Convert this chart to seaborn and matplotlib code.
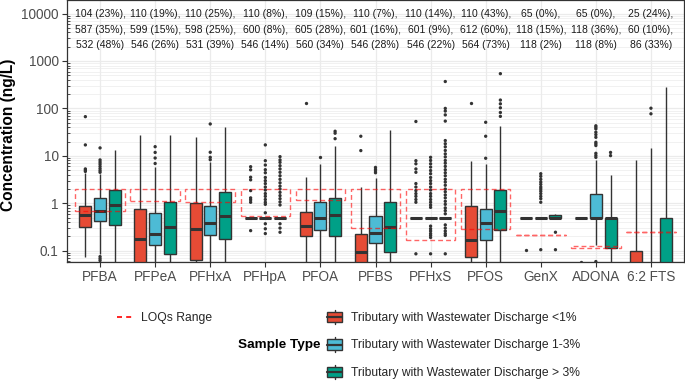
import numpy as np
import pandas as pd
import matplotlib
matplotlib.use("Agg")
import matplotlib.pyplot as plt
import seaborn as sns
from matplotlib.patches import Rectangle, Patch
from matplotlib.lines import Line2D
from matplotlib.legend_handler import HandlerBase
from matplotlib.ticker import FixedLocator, NullFormatter

# ---------------- data ----------------
compounds = ["PFBA", "PFPeA", "PFHxA", "PFHpA", "PFOA", "PFBS",
             "PFHxS", "PFOS", "GenX", "ADONA", "6:2 FTS"]
groups = ["Tributary with Wastewater Discharge <1%",
          "Tributary with Wastewater Discharge 1-3%",
          "Tributary with Wastewater Discharge > 3%"]
group_colors = ["#E64B35", "#4DBBD5", "#00A087"]

# box statistics in ng/L (0.02 = below the plotted range)
lt1_low = [0.073, 0.02, 0.02, 0.49, 0.02, 0.02, 0.49, 0.02, 0.49, 0.49, 0.02]
lt1_q1 = [0.31, 0.03, 0.065, 0.49, 0.205, 0.03, 0.49, 0.073, 0.49, 0.49, 0.03]
lt1_med = [0.57, 0.18, 0.28, 0.49, 0.33, 0.093, 0.49, 0.165, 0.49, 0.49, 0.045]
lt1_q3 = [0.865, 0.74, 1.02, 0.49, 0.67, 0.227, 0.49, 0.88, 0.49, 0.49, 0.098]
lt1_high = [4.4, 27.5, 25, 0.49, 3.5, 2.2, 0.49, 7.6, 0.49, 0.49, 8.2]

mid_low = [0.085, 0.02, 0.02, 0.49, 0.02, 0.02, 0.49, 0.02, 0.49, 0.13, 0.02]
mid_q1 = [0.43, 0.135, 0.21, 0.49, 0.275, 0.144, 0.49, 0.165, 0.49, 0.49, 0.025]
mid_med = [0.70, 0.23, 0.38, 0.49, 0.5, 0.235, 0.49, 0.38, 0.49, 0.49, 0.03]
mid_q3 = [1.27, 0.63, 0.865, 0.49, 1.07, 0.54, 0.49, 0.75, 0.49, 1.55, 0.04]
mid_high = [4.2, 5.7, 7.5, 0.49, 6.8, 3.4, 0.49, 6.8, 0.49, 8.3, 14.7]

gt3_low = [0.02, 0.02, 0.02, 0.49, 0.02, 0.02, 0.49, 0.02, 0.48, 0.02, 0.02]
gt3_q1 = [0.355, 0.087, 0.175, 0.49, 0.2, 0.095, 0.49, 0.275, 0.48, 0.115, 0.03]
gt3_med = [0.92, 0.32, 0.53, 0.49, 0.57, 0.32, 0.49, 0.70, 0.5, 0.49, 0.04]
gt3_q3 = [1.94, 1.07, 1.74, 0.49, 1.32, 1.07, 0.49, 1.94, 0.56, 0.49, 0.49]
gt3_high = [13.5, 27.5, 40, 0.49, 16.5, 35, 0.49, 43, 0.58, 3.9, 280]

# outliers (ng/L)
lt1_outliers = {
    "PFBA": [67, 17, 5.3, 5.0, 4.7],
    "PFHpA": [5.9, 5.07, 3.54, 3.12, 1.85, 1.30, 1.18, 1.05, 0.265],
    "PFOA": [131],
    "PFBS": [25.9, 12.9],
    "PFHxS": [53, 7.9, 6.8, 5.3, 4.5, 2.6, 2.2, 1.85, 1.6, 1.4, 1.2, 1.05, 0.086],
    "PFOS": [131],
    "GenX": [0.105],
    "ADONA": [0.059],
}
mid_outliers = {
    "PFBA": [14.7, 8.2, 7.4, 6.7, 6.0, 5.4, 4.9, 4.5, 0.075, 0.068, 0.062],
    "PFPeA": [15.6, 11.8, 9.0, 6.9],
    "PFHxA": [47, 11.9, 9.3, 8.3],
    "PFHpA": [17, 7.9, 6.4, 5.1, 4.4, 3.5, 3.0, 2.6, 2.2, 1.9, 1.6, 1.4, 1.2,
              1.05, 0.95, 0.63, 0.37, 0.29, 0.23],
    "PFOA": [9.6],
    "PFBS": [5.7, 5.2, 4.8, 4.4],
    "PFHxS": [9.3, 8.0, 6.8, 5.8, 4.9, 4.2, 3.5, 3.0, 2.6, 2.2, 1.9, 1.6, 1.4,
              1.2, 1.05, 0.92, 0.82, 0.33, 0.29, 0.26, 0.23, 0.21, 0.19, 0.086],
    "PFOS": [51, 25.9, 8.9],
    "GenX": [4.2, 3.7, 3.2, 2.8, 2.5, 2.2, 2.0, 1.8, 1.6, 1.4, 1.25, 1.05, 0.105],
    "ADONA": [43, 40, 37, 31.5, 28, 24.6, 19.3, 17.9, 16.5, 11.3, 10.2, 9.3, 0.059],
    "6:2 FTS": [101, 77],
}
gt3_outliers = {
    "PFHpA": [9.6, 8.2, 7.3, 6.2, 5.3, 4.5, 3.8, 3.2, 2.7, 2.3, 2.0, 1.7, 1.45,
              1.25, 1.07, 0.92, 0.37, 0.30, 0.245],
    "PFOA": [33, 30, 23],
    "PFHxS": [369, 100, 88, 73, 54, 21, 18, 15.5, 13, 11, 9.5, 8, 7, 6, 5.1, 4.4,
              3.8, 3.2, 2.8, 2.4, 2.0, 1.75, 1.5, 1.3, 1.1, 0.95, 0.8, 0.7, 0.6,
              0.35, 0.3, 0.26, 0.23, 0.21, 0.086],
    "PFOS": [540, 150, 125, 103, 82, 68],
    "GenX": [0.245, 0.105],
    "ADONA": [11.8, 10.1],
}

# LOQ ranges (ng/L)
loq_low = [0.69, 1.13, 1.04, 0.53, 1.18, 0.30, 0.17, 0.29, 0.215, 0.115, 0.25]
loq_high = [2.0, 2.0, 2.0, 2.0, 2.0, 2.0, 2.0, 2.0, 0.215, 0.125, 0.25]

# sample counts (detection frequency) per group
counts_lt1 = ["104 (23%),", "110 (19%),", "110 (25%),", "110 (8%),", "109 (15%),",
              "110 (7%),", "110 (14%),", "110 (43%),", "65 (0%),", "65 (0%),", "25 (24%),"]
counts_mid = ["587 (35%),", "599 (15%),", "598 (25%),", "600 (8%),", "605 (28%),",
              "601 (16%),", "601 (9%),", "612 (60%),", "118 (15%),", "118 (36%),", "60 (10%),"]
counts_gt3 = ["532 (48%)", "546 (26%)", "531 (39%)", "546 (14%)", "560 (34%)",
              "546 (28%)", "546 (22%)", "564 (73%)", "118 (2%)", "118 (8%)", "86 (33%)"]
count_rows_y = [10000, 4600, 2200]

# ---------------- tables ----------------
box_rows = []
for g, stats in zip(groups, [
        (lt1_low, lt1_q1, lt1_med, lt1_q3, lt1_high),
        (mid_low, mid_q1, mid_med, mid_q3, mid_high),
        (gt3_low, gt3_q1, gt3_med, gt3_q3, gt3_high)]):
    for i, c in enumerate(compounds):
        for s in stats:
            box_rows.append({"compound": c, "group": g, "value": s[i]})
box_df = pd.DataFrame(box_rows)

out_rows = []
for g, od in zip(groups, [lt1_outliers, mid_outliers, gt3_outliers]):
    for c, vals in od.items():
        for v in vals:
            out_rows.append({"compound": c, "group": g, "value": v})
out_df = pd.DataFrame(out_rows)


class BoxKeyHandler(HandlerBase):
    """Legend key drawn like a small boxplot (box, median, whiskers)."""

    def create_artists(self, legend, orig_handle, xdescent, ydescent,
                       width, height, fontsize, trans):
        x0, y0 = -xdescent, -ydescent
        lc = "#333333"
        rect = Rectangle((x0, y0 + 0.14 * height), width, 0.72 * height,
                         facecolor=orig_handle.get_facecolor(), edgecolor=lc,
                         lw=1.0, transform=trans)
        med = Line2D([x0, x0 + width], [y0 + height / 2] * 2, color=lc,
                     lw=1.6, transform=trans)
        wlo = Line2D([x0 + width / 2] * 2, [y0, y0 + 0.14 * height], color=lc,
                     lw=1.0, transform=trans)
        whi = Line2D([x0 + width / 2] * 2, [y0 + 0.86 * height, y0 + height],
                     color=lc, lw=1.0, transform=trans)
        return [wlo, whi, rect, med]


# ---------------- style ----------------
sns.set_theme(style="white")
plt.rcParams["font.family"] = ["Liberation Sans", "DejaVu Sans"]

W, H = 685, 381
fig = plt.figure(figsize=(W / 100, H / 100), dpi=100)
ax = fig.add_axes([67 / W, 119 / H, 617 / W, 262 / H])

sns.boxplot(data=box_df, x="compound", y="value", hue="group",
            order=compounds, hue_order=groups, palette=group_colors,
            saturation=1, width=0.8, gap=0.18, whis=(0, 100),
            linecolor="#333333", linewidth=1.0, showcaps=False,
            medianprops={"linewidth": 2.2, "color": "#333333"},
            log_scale=True, legend=False, ax=ax, zorder=2)

sns.stripplot(data=out_df, x="compound", y="value", hue="group",
              order=compounds, hue_order=groups,
              palette=["#333333"] * 3, dodge=True, jitter=False,
              size=2.4, linewidth=0, legend=False, ax=ax, zorder=3)

for i, (lo, hi) in enumerate(zip(loq_low, loq_high)):
    ax.add_patch(Rectangle((i - 0.45, lo), 0.9, hi - lo, fill=False,
                           edgecolor="red", alpha=0.6, lw=1.0,
                           ls=(0, (3.5, 2.2)), zorder=4))

for i in range(len(compounds)):
    for lab, yv in zip([counts_lt1[i], counts_mid[i], counts_gt3[i]], count_rows_y):
        ax.text(i, yv, lab, ha="center", va="center", fontsize=7.5,
                color="#1A1A1A", zorder=5)

ax.set_yscale("log")
ax.set_ylim(0.0578, 19300)
ax.set_xlim(-0.6, 10.6)

ax.set_yticks([0.1, 1, 10, 100, 1000, 10000])
ax.set_yticklabels(["0.1", "1", "10", "100", "1000", "10000"])
ax.yaxis.set_minor_locator(FixedLocator(
    [m * 10.0 ** e for e in range(-2, 5) for m in range(2, 10)]))
ax.yaxis.set_minor_formatter(NullFormatter())

ax.tick_params(axis="y", which="major", direction="out", length=3.8, width=0.8,
               color="#333333", labelsize=9.8, labelcolor="#4D4D4D", pad=2.2,
               left=True)
ax.tick_params(axis="y", which="minor", direction="in", length=2.5, width=0.6,
               color="#333333", left=True)
ax.tick_params(axis="x", which="major", direction="out", length=3.8, width=0.8,
               color="#333333", labelsize=9.8, labelcolor="#4D4D4D", pad=2.2,
               bottom=True)

ax.set_axisbelow(True)
ax.grid(True, which="major", axis="both", color="#EBEBEB", lw=0.9)
ax.grid(True, which="minor", axis="y", color="#EBEBEB", lw=0.5)
for s in ax.spines.values():
    s.set_color("#333333")
    s.set_linewidth(0.9)

ax.set_xlabel("")
ax.set_ylabel("Concentration (ng/L)", fontsize=11.2, fontweight="bold",
              color="black")
ax.yaxis.set_label_coords(-0.082, 0.487)

# ---------------- legends ----------------
loq_handle = Line2D([], [], color="red", lw=1.2, ls=(0, (3, 2.5)))
leg1 = fig.legend([loq_handle], ["LOQs Range"], loc="center left",
                  bbox_to_anchor=(117 / W, 1 - 318 / H), frameon=False,
                  fontsize=8.7, handlelength=1.25, handletextpad=0.75,
                  borderpad=0, borderaxespad=0)

box_handles = [Patch(facecolor=c, edgecolor="#333333") for c in group_colors]
leg2 = fig.legend(box_handles, groups,
                  handler_map={Patch: BoxKeyHandler()},
                  loc="center left", bbox_to_anchor=(327 / W, 1 - 344.5 / H),
                  frameon=False, fontsize=8.7, handlelength=1.25,
                  handleheight=1.5, handletextpad=0.7, labelspacing=1.05,
                  borderpad=0, borderaxespad=0)
fig.text(321 / W, 1 - 345 / H, "Sample Type", ha="right", va="center",
         fontsize=9.7, fontweight="bold", color="black")

fig.savefig("out.png", dpi=100)
